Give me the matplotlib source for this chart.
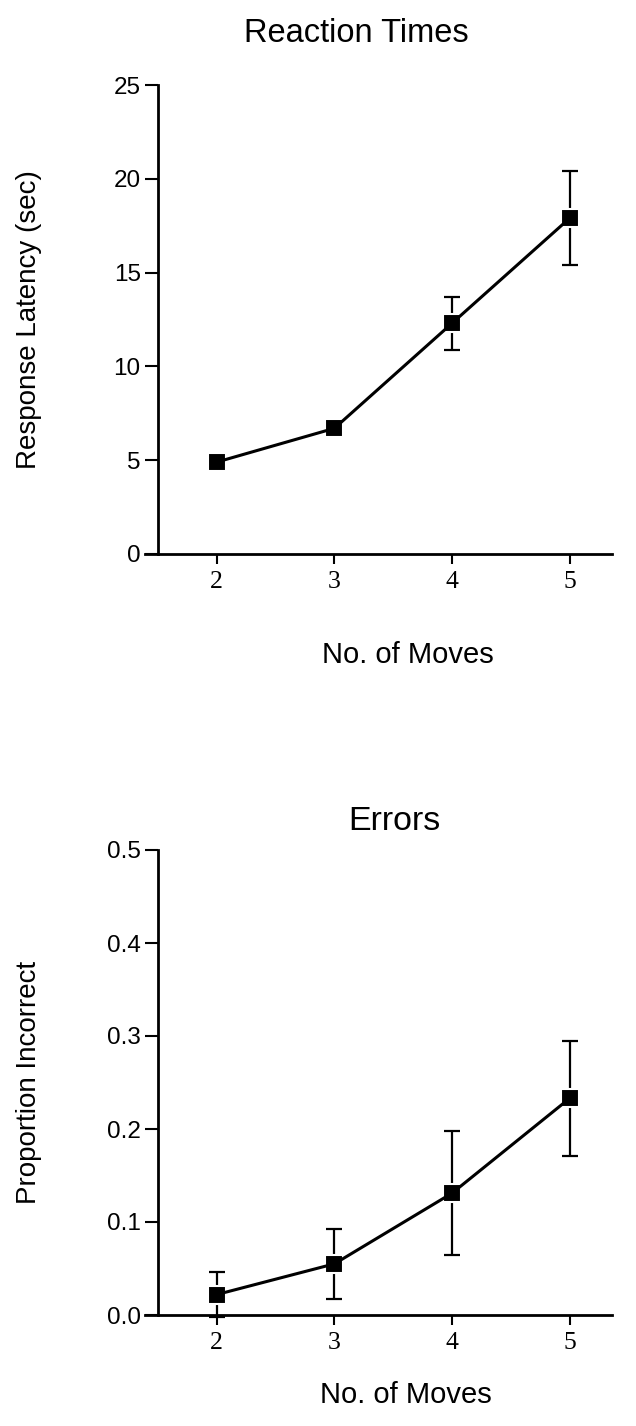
import matplotlib; matplotlib.use("Agg"); import matplotlib.pyplot as plt

SANS = ['Liberation Sans', 'DejaVu Sans']
SERIF = ['Liberation Serif', 'DejaVu Serif']

moves = [2, 3, 4, 5]
rt_mean = [4.9, 6.7, 12.3, 17.9]
rt_err = [0.0, 0.0, 1.4, 2.5]
err_mean = [0.022, 0.055, 0.131, 0.233]
err_err = [0.024, 0.038, 0.067, 0.062]

fig = plt.figure(figsize=(6.36, 14.26), dpi=100)
fig.patch.set_facecolor('white')
W, H = 636.0, 1426.0

def panel(rect, y, e, ylim, yticks, yfmt, ylabel):
    ax = fig.add_axes(rect)
    # error bars first, then white-rimmed squares, then the connecting line
    ax.errorbar(moves, y, yerr=e, fmt='none', ecolor='black', elinewidth=1.6,
                capsize=6, capthick=1.6, zorder=2, clip_on=False)
    ax.plot(moves, y, ls='none', marker='s', ms=13, mfc='black', mec='white',
            mew=1.5, zorder=3, clip_on=False)
    ax.plot(moves, y, color='black', lw=2.2, zorder=4, clip_on=False)
    ax.set_xlim(1.39, 5.36); ax.set_ylim(*ylim)
    for s in ['top', 'right']: ax.spines[s].set_visible(False)
    ax.spines['left'].set_position(('data', 1.5))
    ax.spines['left'].set_linewidth(2); ax.spines['bottom'].set_linewidth(2)
    ax.set_xticks(moves)
    ax.set_xticklabels([str(m) for m in moves], family=SERIF, fontsize=18.5)
    ax.set_yticks(yticks)
    ax.set_yticklabels([yfmt.format(t) for t in yticks], family=SANS, fontsize=17.5)
    ax.tick_params(axis='x', direction='out', length=7, width=1.5, pad=5)
    ax.tick_params(axis='y', direction='out', length=9.4, width=1.5, pad=3)
    ax.set_ylabel(ylabel, family=SANS, fontsize=20)
    ax.yaxis.set_label_coords(-0.22, 0.5)
    return ax

ax1 = panel([145/W, 1-554/H, 467/W, 469/H], rt_mean, rt_err, (0, 25),
            [0, 5, 10, 15, 20, 25], '{:g}', 'Response Latency (sec)')
ax2 = panel([145/W, 1-1315/H, 467/W, 465/H], err_mean, err_err, (0, 0.5),
            [0.0, 0.1, 0.2, 0.3, 0.4, 0.5], '{:.1f}', 'Proportion Incorrect')

def txt(x, y, s, size):
    fig.text(x/W, 1-y/H, s, family=SANS, fontsize=size, ha='center', va='center')
txt(356, 34, 'Reaction Times', 23.5)
txt(408, 655, 'No. of Moves', 21)
txt(394, 822, 'Errors', 24.5)
txt(406, 1395, 'No. of Moves', 21)

fig.savefig('out.png', dpi=100, facecolor='white')
